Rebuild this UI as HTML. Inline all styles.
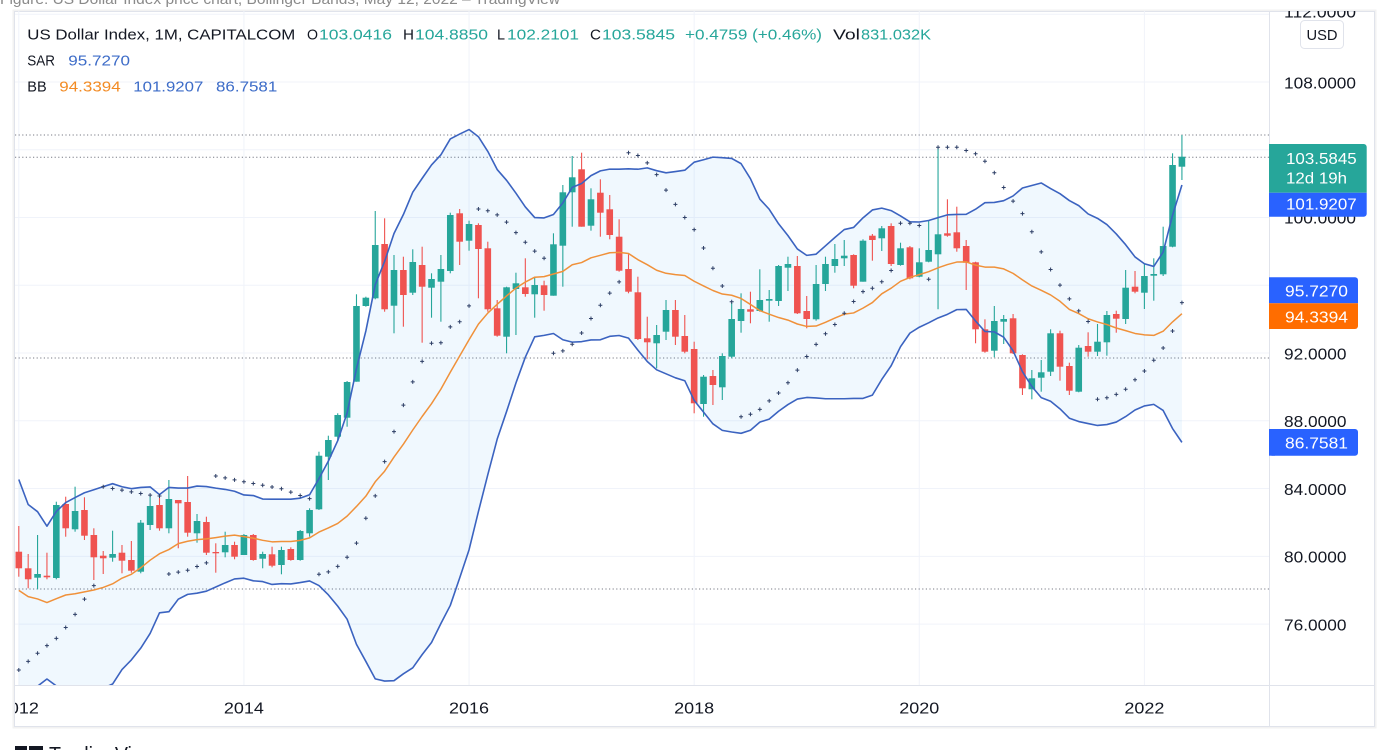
<!DOCTYPE html>
<html>
<head>
<meta charset="utf-8">
<style>
html,body{margin:0;padding:0;background:#fff;width:1389px;height:750px;overflow:hidden;}
svg{display:block;font-family:"Liberation Sans",Arial,sans-serif;}
</style>
</head>
<body>
<svg id="svg" width="1389" height="750" viewBox="0 0 1389 750" xmlns="http://www.w3.org/2000/svg">
<defs>
<clipPath id="cp"><rect x="15" y="11" width="1254" height="674"/></clipPath>
<clipPath id="cr"><rect x="1269" y="11" width="106" height="674"/></clipPath>
<clipPath id="cb"><rect x="15" y="685" width="1254" height="42"/></clipPath>
</defs>
<rect x="0" y="0" width="1389" height="750" fill="#fff"/>
<text x="0" y="4" font-size="15" fill="#8a8a8a" textLength="560" lengthAdjust="spacingAndGlyphs">Figure: US Dollar Index price chart, Bollinger Bands, May 12, 2022 – TradingView</text>

<!-- frame -->
<rect x="13.5" y="10.5" width="1362" height="717" fill="none" stroke="#f2f2f2" stroke-width="2"/>
<rect x="14.5" y="11.5" width="1360" height="715" fill="#fff" stroke="#e0e3eb" stroke-width="1"/>

<g id="grid"></g>
<g id="pane" clip-path="url(#cp)"></g>

<!-- axis separators -->
<line x1="1269.5" y1="11" x2="1269.5" y2="727" stroke="#e0e3eb" stroke-width="1"/>
<line x1="15" y1="685.5" x2="1375" y2="685.5" stroke="#e0e3eb" stroke-width="1"/>

<!-- right axis labels -->
<g clip-path="url(#cr)" font-size="16" fill="#131722">
<text x="1284" y="17.5" textLength="72" lengthAdjust="spacingAndGlyphs">112.0000</text>
<text x="1284" y="88.3" textLength="72" lengthAdjust="spacingAndGlyphs">108.0000</text>
<text x="1284" y="156" textLength="72" lengthAdjust="spacingAndGlyphs">104.0000</text>
<text x="1284" y="223.7" textLength="72" lengthAdjust="spacingAndGlyphs">100.0000</text>
<text x="1284" y="291.4" textLength="62.5" lengthAdjust="spacingAndGlyphs">96.0000</text>
<text x="1284" y="359.5" textLength="62.5" lengthAdjust="spacingAndGlyphs">92.0000</text>
<text x="1284" y="427.2" textLength="62.5" lengthAdjust="spacingAndGlyphs">88.0000</text>
<text x="1284" y="494.8" textLength="62.5" lengthAdjust="spacingAndGlyphs">84.0000</text>
<text x="1284" y="562.6" textLength="62.5" lengthAdjust="spacingAndGlyphs">80.0000</text>
<text x="1284" y="630.6" textLength="62.5" lengthAdjust="spacingAndGlyphs">76.0000</text>
</g>

<!-- USD box -->
<rect x="1300.5" y="20.5" width="43" height="28" rx="4" fill="#fff" stroke="#e0e3eb"/>
<text x="1322" y="40" font-size="15" fill="#131722" text-anchor="middle" textLength="31" lengthAdjust="spacingAndGlyphs">USD</text>

<!-- price boxes -->
<path d="M1269,144 H1363.7 a3,3 0 0 1 3,3 V192.7 H1269 Z" fill="#26a69a"/>
<path d="M1269,192.7 H1366.7 V213.7 a3,3 0 0 1 -3,3 H1269 Z" fill="#2962ff"/>
<text x="1286" y="164" font-size="16" fill="#fff" textLength="70.7" lengthAdjust="spacingAndGlyphs">103.5845</text>
<text x="1286" y="183.3" font-size="16" fill="#fff" textLength="61" lengthAdjust="spacingAndGlyphs">12d 19h</text>
<text x="1286" y="209.3" font-size="16" fill="#fff" textLength="70.7" lengthAdjust="spacingAndGlyphs">101.9207</text>

<path d="M1269,277.3 H1355 a3,3 0 0 1 3,3 V303.3 H1269 Z" fill="#2962ff"/>
<path d="M1269,303.3 H1358 V326 a3,3 0 0 1 -3,3 H1269 Z" fill="#ff6d00"/>
<text x="1285" y="296.7" font-size="16" fill="#fff" textLength="63" lengthAdjust="spacingAndGlyphs">95.7270</text>
<text x="1285" y="322.7" font-size="16" fill="#fff" textLength="63" lengthAdjust="spacingAndGlyphs">94.3394</text>

<rect x="1269" y="429" width="89" height="26.7" rx="3" fill="#2962ff"/>
<rect x="1269" y="429" width="6" height="26.7" fill="#2962ff"/>
<text x="1285" y="448.3" font-size="16" fill="#fff" textLength="63" lengthAdjust="spacingAndGlyphs">86.7581</text>

<!-- time axis labels -->
<g clip-path="url(#cb)" font-size="16" fill="#131722" text-anchor="middle">
<text x="18.8" y="713.3" textLength="40" lengthAdjust="spacingAndGlyphs">2012</text>
<text x="243.9" y="713.3" textLength="40" lengthAdjust="spacingAndGlyphs">2014</text>
<text x="469" y="713.3" textLength="40" lengthAdjust="spacingAndGlyphs">2016</text>
<text x="694.2" y="713.3" textLength="40" lengthAdjust="spacingAndGlyphs">2018</text>
<text x="919.3" y="713.3" textLength="40" lengthAdjust="spacingAndGlyphs">2020</text>
<text x="1144.4" y="713.3" textLength="40" lengthAdjust="spacingAndGlyphs">2022</text>
</g>

<!-- legend -->
<g font-size="15">
<text x="27.3" y="39.3" fill="#131722" textLength="268" lengthAdjust="spacingAndGlyphs">US Dollar Index, 1M, CAPITALCOM</text>
<text x="307" y="39.3" fill="#131722" textLength="11" lengthAdjust="spacingAndGlyphs">O</text>
<text x="319" y="39.3" fill="#26a69a" textLength="73" lengthAdjust="spacingAndGlyphs">103.0416</text>
<text x="403" y="39.3" fill="#131722" textLength="11" lengthAdjust="spacingAndGlyphs">H</text>
<text x="415" y="39.3" fill="#26a69a" textLength="73" lengthAdjust="spacingAndGlyphs">104.8850</text>
<text x="497" y="39.3" fill="#131722" textLength="8" lengthAdjust="spacingAndGlyphs">L</text>
<text x="507" y="39.3" fill="#26a69a" textLength="72" lengthAdjust="spacingAndGlyphs">102.2101</text>
<text x="590" y="39.3" fill="#131722" textLength="11" lengthAdjust="spacingAndGlyphs">C</text>
<text x="602" y="39.3" fill="#26a69a" textLength="73" lengthAdjust="spacingAndGlyphs">103.5845</text>
<text x="685" y="39.3" fill="#26a69a" textLength="137" lengthAdjust="spacingAndGlyphs">+0.4759 (+0.46%)</text>
<text x="833" y="39.3" fill="#131722" textLength="27" lengthAdjust="spacingAndGlyphs">Vol</text>
<text x="861" y="39.3" fill="#26a69a" textLength="70" lengthAdjust="spacingAndGlyphs">831.032K</text>

<text x="27.3" y="65.3" fill="#131722" textLength="27.7" lengthAdjust="spacingAndGlyphs">SAR</text>
<text x="68.3" y="65.3" fill="#3d6cc8" textLength="61.7" lengthAdjust="spacingAndGlyphs">95.7270</text>

<text x="27.3" y="91.7" fill="#131722" textLength="19.4" lengthAdjust="spacingAndGlyphs">BB</text>
<text x="59.3" y="91.7" fill="#f28b24" textLength="61.4" lengthAdjust="spacingAndGlyphs">94.3394</text>
<text x="133.3" y="91.7" fill="#3d6cc8" textLength="70" lengthAdjust="spacingAndGlyphs">101.9207</text>
<text x="216" y="91.7" fill="#3d6cc8" textLength="61.3" lengthAdjust="spacingAndGlyphs">86.7581</text>
</g>

<!-- TradingView logo (cut off) -->
<rect x="15" y="746" width="12" height="6" fill="#131722"/>
<rect x="29" y="746" width="14" height="6" fill="#131722"/>
<text x="49" y="761" font-size="20" fill="#131722" textLength="108" lengthAdjust="spacingAndGlyphs">TradingView</text>
</svg>

<script>
(function(){
var D = "r 551.7 568.3 526 576.7\n" +
"r 568.3 579.3 554 588.3\n" +
"g 574 577.7 535 589.3\n" +
"r 575.7 577.3 552.7 579.3\n" +
"g 505 578 501.7 579.3\n" +
"r 504 528.3 496.7 536.7\n" +
"g 511 529.3 486.7 531.7\n" +
"r 510 535.7 497.3 540\n" +
"r 535 557.3 528.3 580\n" +
"r 555.7 558.3 551 574\n" +
"g 554 557.7 530.7 561.7\n" +
"r 552.7 560.7 545 573.3\n" +
"r 560 570.7 541 572.7\n" +
"g 522.7 571.7 520 573.3\n" +
"g 506 525 496 530\n" +
"r 505 528.3 497.3 530.7\n" +
"g 499 528.3 480 533.3\n" +
"r 500 503.3 500 548.3\n" +
"r 502 532.7 476 536.7\n" +
"g 521 533.3 514 542.7\n" +
"r 522 552.7 516.7 555\n" +
"r 552 553.3 543.3 572.7\n" +
"g 545 552.3 531.7 557.3\n" +
"r 545 556.7 541.7 559.3\n" +
"g 535 555 534 555\n" +
"r 535 560 534 560.7\n" +
"g 554 558.7 551.7 568.3\n" +
"r 554.3 565.7 546.7 567.3\n" +
"g 550 565 546.7 574.3\n" +
"r 549 560 547.3 560.7\n" +
"g 531 560 530 560.7\n" +
"g 510 533.3 508.3 536.7\n" +
"g 455.7 509.3 451.7 510\n" +
"g 440 456.7 435.7 480\n" +
"g 415 436.7 413.3 440\n" +
"g 382 417.7 381 426.7\n" +
"g 306 381.7 294.3 381.7\n" +
"g 297.7 306 296.7 306.7\n" +
"g 245 298.3 211 299.3\n" +
"r 244 309.3 218.3 311.7\n" +
"g 270 305.7 255 333.3\n" +
"r 270 295 256.7 326.7\n" +
"g 262 292.7 249.3 295\n" +
"r 265 286.7 246.7 342.7\n" +
"g 279 287.7 273.3 317.7\n" +
"g 269 281.7 255 321.7\n" +
"g 215 271 212.7 273.3\n" +
"r 213.3 241.7 209 265\n" +
"g 224 240.7 220.7 250.7\n" +
"r 225 249 223.3 298.3\n" +
"r 248.3 309.3 241.7 311.7\n" +
"r 308.3 335.7 300 336.7\n" +
"g 287.3 336.7 286.7 353.3\n" +
"g 283.3 289 272.7 335\n" +
"r 287.3 294 258.3 296.7\n" +
"g 285 294.3 276.7 317.7\n" +
"r 285.3 295 280.7 310.7\n" +
"g 244.3 295.7 233.3 295.7\n" +
"g 192.3 245.7 185 286.7\n" +
"g 177.3 192.3 156 226.7\n" +
"r 169.3 226.7 152.7 226.7\n" +
"g 199.3 225.7 188.3 230.7\n" +
"r 192.7 212.7 179.3 236.7\n" +
"r 209.3 235 195 239.3\n" +
"r 236.7 270.7 219.3 271.7\n" +
"r 269 291.7 254.3 293.3\n" +
"r 292.3 339 276.7 340\n" +
"r 338.3 342.3 316.7 359.3\n" +
"g 335 343.3 325 368.3\n" +
"g 310 331.7 300 340\n" +
"r 310 336.7 300 345\n" +
"r 336 351.7 315 353.3\n" +
"r 349 403.3 341.7 413.3\n" +
"g 376.7 404 375 416.7\n" +
"r 376 385 370 405\n" +
"g 356 387.3 353.3 400\n" +
"g 319 356.7 302.7 358.3\n" +
"g 309 321 293.3 332.7\n" +
"r 309.3 311.7 291.7 323.3\n" +
"g 300 311 269.3 311.7\n" +
"g 299 300.7 290 321.7\n" +
"g 266 301 265 306\n" +
"g 264 267.7 256.7 291\n" +
"r 266 313.3 256 314\n" +
"r 311 319 296 328.3\n" +
"g 284 319.3 265 320.7\n" +
"g 264 284 256.7 291\n" +
"g 259 266 244 272.7\n" +
"g 255.7 258.3 240 266\n" +
"r 255 285.7 254.3 288.3\n" +
"g 240.7 281.7 239.3 281.7\n" +
"r 235.7 240 234 260.7\n" +
"g 228.3 238.3 226 251\n" +
"r 226 264 223.3 266\n" +
"g 248.3 265 242.7 265.7\n" +
"r 247.3 278.3 246 279.3\n" +
"g 262.3 276.7 248.3 277.3\n" +
"g 250 261.7 220 262.3\n" +
"g 234.3 254.3 147.3 309.3\n" +
"r 233.3 235.7 199.3 236.7\n" +
"r 232.3 248.3 206.7 251.7\n" +
"r 246 262.7 240 290\n" +
"r 262.3 329.3 261.7 343.3\n" +
"r 329.3 351.7 319.3 352.7\n" +
"g 321 350.7 306 357.3\n" +
"g 319 321.7 315 344\n" +
"r 318.3 353.3 314 354\n" +
"r 355 388.3 354.3 395\n" +
"g 378.3 389.3 370 399.3\n" +
"g 372.3 377.7 360 391.7\n" +
"g 333.3 371.7 329.3 376\n" +
"r 333.3 366.7 330.7 380.7\n" +
"r 366 390.7 362.7 395\n" +
"g 347.7 391.7 345 392.3\n" +
"r 346 351.7 332.3 356.7\n" +
"g 341.7 351.7 324 356\n" +
"g 315 342.3 311 355.7\n" +
"r 314 318.7 310.7 332.7\n" +
"g 287.7 319 270 324\n" +
"r 286.7 291.7 271 293.3\n" +
"g 276 292.7 264 309\n" +
"g 274 275.7 258.3 300.7\n" +
"g 246 274.3 226.7 276\n" +
"g 165 246.7 153.3 247.3\n" +
"g 156.7 166.7 135 180";

var NS = "http://www.w3.org/2000/svg";
function el(tag, attrs, parent){
  var e = document.createElementNS(NS, tag);
  for (var k in attrs) e.setAttribute(k, attrs[k]);
  parent.appendChild(e);
  return e;
}
function X(i){ return 18.8 + 9.38*i; }
function Y(p){ return 82 + (108 - p)*16.94; }

var rows = D.split("\n").map(function(l){ return l.trim().split(/\s+/); });
var N = rows.length;
var C = [], H = [], L = [];
rows.forEach(function(r){
  var g = r[0] === "g";
  C.push(g ? +r[1] : +r[2]);
  H.push(+r[3]); L.push(+r[4]);
});

var grid = document.getElementById("grid");
var pane = document.getElementById("pane");

[112,108,104,100,96,92,88,84,80,76].forEach(function(p){
  var y = Y(p);
  if (y > 11 && y < 685) el("line", {x1:15, y1:y, x2:1269, y2:y, stroke:"#f0f3fa", "stroke-width":1}, grid);
});
for (var k = 0; k <= 120; k += 24){
  var x = X(k);
  el("line", {x1:x, y1:11, x2:x, y2:685, stroke:"#f0f3fa", "stroke-width":1}, grid);
}

[135, 157.3, 358, 589].forEach(function(y){
  el("line", {x1:15, y1:y, x2:1269, y2:y, stroke:"#787b86", "stroke-width":1, "stroke-dasharray":"1.2 2.4"}, pane);
});

var pre = [86.0,81.7,83.1,78.4,77.3,81.2,79.0,77.7,76.9,75.9,73.0,74.6,74.3,74.0,74.0,78.5,76.1,78.6,80.2].map(Y);
var all = pre.concat(C);
var mid = [], up = [], lo = [];
for (var i = 0; i < N; i++){
  var w = all.slice(i, i+20);
  var m = w.reduce(function(a,b){return a+b;},0)/20;
  var v = w.reduce(function(a,b){return a+(b-m)*(b-m);},0)/20;
  var sd = Math.sqrt(v);
  mid.push(m); up.push(m - 2*sd); lo.push(m + 2*sd);
}
var fillPts = [];
for (i = 0; i < N; i++) fillPts.push(X(i).toFixed(2)+","+up[i].toFixed(2));
for (i = N-1; i >= 0; i--) fillPts.push(X(i).toFixed(2)+","+lo[i].toFixed(2));
el("polygon", {points: fillPts.join(" "), fill:"rgba(33,150,243,0.065)", stroke:"none"}, pane);

for (i = 0; i < N; i++){
  var r = rows[i];
  var col = r[0] === "g" ? "#26a69a" : "#ef5350";
  var x = X(i);
  el("line", {x1:x, y1:+r[3], x2:x, y2:+r[4], stroke:col, "stroke-width":1.1}, pane);
  var bt = +r[1], bb = +r[2];
  el("rect", {x:x-3.3, y:bt, width:6.6, height:Math.max(bb-bt,1.2), fill:col}, pane);
}

function poly(arr, color, wdt){
  var pts = [];
  for (var i = 0; i < arr.length; i++) pts.push(X(i).toFixed(2)+","+arr[i].toFixed(2));
  el("polyline", {points:pts.join(" "), fill:"none", stroke:color, "stroke-width":wdt, "stroke-linejoin":"round"}, pane);
}
poly(up, "#3b63c0", 1.6);
poly(lo, "#3b63c0", 1.6);
poly(mid, "#f0913a", 1.5);

var hp = H.map(function(y){return -y;}), lp = L.map(function(y){return -y;});
var res = -670, mm = -526, acc = 0.06, below = true;
var sar = [res];
for (i = 1; i < N; i++){
  var first = false;
  res = res + acc*(mm - res);
  if (below){
    if (res > lp[i]){ first = true; below = false; res = Math.max(hp[i], mm); mm = lp[i]; acc = 0.02; }
  } else {
    if (res < hp[i]){ first = true; below = true; res = Math.min(lp[i], mm); mm = hp[i]; acc = 0.02; }
  }
  if (!first){
    if (below){ if (hp[i] > mm){ mm = hp[i]; acc = Math.min(acc+0.02, 0.2); } }
    else { if (lp[i] < mm){ mm = lp[i]; acc = Math.min(acc+0.02, 0.2); } }
  }
  if (below){ res = Math.min(res, lp[i-1]); if (i > 1) res = Math.min(res, lp[i-2]); }
  else { res = Math.max(res, hp[i-1]); if (i > 1) res = Math.max(res, hp[i-2]); }
  sar.push(res);
}
var d = "";
for (i = 0; i < N; i++){
  var sx = X(i), sy = -sar[i];
  d += "M"+(sx-2).toFixed(2)+","+sy.toFixed(2)+"h4M"+sx.toFixed(2)+","+(sy-2).toFixed(2)+"v4";
}
el("path", {d:d, stroke:"#2e3f66", "stroke-width":1, fill:"none"}, pane);
})();
</script>
</body>
</html>
